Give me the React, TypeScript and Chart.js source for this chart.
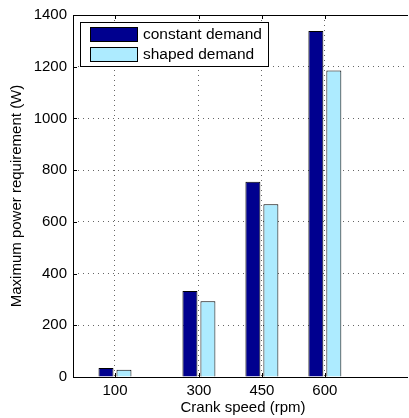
import { useEffect, useRef } from 'react';
import { Chart, registerables } from 'chart.js';

Chart.register(...registerables);

const crankSpeeds = [100, 300, 450, 600];
const constantDemand = [35, 333, 755, 1338];
const shapedDemand = [28, 293, 668, 1185];
const seriesLabels = ['constant demand', 'shaped demand'];
const seriesColors = ['#00008F', '#ADEBFF'];
const yTickValues = [0, 200, 400, 600, 800, 1000, 1200, 1400];
const xTitle = 'Crank speed (rpm)';
const yTitle = 'Maximum power requirement (W)';

const FONT_FAMILY = '"Liberation Sans", Arial, sans-serif';
const GRID = 'rgba(0,0,0,0.6)';

const boxPlugin = {
  id: 'matlabBox',
  afterDraw(chart: any) {
    const { ctx, chartArea } = chart;
    const { left, top, right, bottom } = chartArea;
    const xs = chart.scales.x;
    const ys = chart.scales.y;
    ctx.save();
    ctx.setLineDash([]);
    ctx.strokeStyle = '#000';
    ctx.lineWidth = 1;
    ctx.beginPath();
    ctx.moveTo(left, top + 0.5);
    ctx.lineTo(right, top + 0.5);
    ctx.stroke();
    ctx.beginPath();
    ctx.moveTo(left + 0.5, top);
    ctx.lineTo(left + 0.5, bottom + 1);
    ctx.stroke();
    ctx.beginPath();
    ctx.moveTo(left, bottom + 0.5);
    ctx.lineTo(right, bottom + 0.5);
    ctx.stroke();
    const tl = 4;
    crankSpeeds.forEach((v) => {
      const px = Math.round(xs.getPixelForValue(v)) + 0.5;
      ctx.beginPath();
      ctx.moveTo(px, bottom);
      ctx.lineTo(px, bottom - tl);
      ctx.stroke();
      ctx.beginPath();
      ctx.moveTo(px, top);
      ctx.lineTo(px, top + tl);
      ctx.stroke();
    });
    yTickValues.forEach((v) => {
      const py = Math.round(ys.getPixelForValue(v)) + 0.5;
      ctx.beginPath();
      ctx.moveTo(left, py);
      ctx.lineTo(left + tl, py);
      ctx.stroke();
    });

    // legend
    const lx = left + 7;
    const ly = top + 7;
    const lw = 188;
    const lh = 44;
    ctx.fillStyle = '#fff';
    ctx.fillRect(lx, ly, lw, lh);
    ctx.strokeRect(lx + 0.5, ly + 0.5, lw, lh);
    ctx.font = `15.5px ${FONT_FAMILY}`;
    ctx.textBaseline = 'middle';
    ctx.textAlign = 'left';
    chart.data.datasets.forEach((ds: any, i: number) => {
      const sy = ly + 5 + i * 20;
      ctx.fillStyle = ds.backgroundColor;
      ctx.fillRect(lx + 10, sy, 48, 15);
      ctx.strokeStyle = '#000';
      ctx.strokeRect(lx + 10.5, sy + 0.5, 47, 14);
      ctx.fillStyle = '#000';
      ctx.fillText(ds.label, lx + 63, sy + 8);
    });
    ctx.restore();
  },
};

export default function App() {
  const canvasRef = useRef<HTMLCanvasElement | null>(null);

  useEffect(() => {
    if (!canvasRef.current) return;
    const font = { family: FONT_FAMILY, size: 15 };
    const chart = new Chart(canvasRef.current, {
      type: 'bar',
      data: {
        datasets: [constantDemand, shapedDemand].map((vals, i) => ({
          label: seriesLabels[i],
          data: crankSpeeds.map((x, j) => ({ x, y: vals[j] })),
          backgroundColor: seriesColors[i],
          borderColor: '#000',
          borderWidth: 1,
          borderSkipped: 'bottom',
          categoryPercentage: 0.571,
          barPercentage: 0.833,
        })),
      },
      options: {
        responsive: false,
        maintainAspectRatio: false,
        animation: false,
        layout: { padding: { top: 13, right: 0, left: 0, bottom: 0 } },
        plugins: { legend: { display: false }, tooltip: { enabled: false } },
        scales: {
          x: {
            type: 'linear',
            min: 0,
            max: 810,
            offset: false,
            grid: { offset: false, color: GRID, drawTicks: false, lineWidth: 1 },
            border: { display: false, dash: [1, 4] },
            afterBuildTicks: (s: any) => {
              s.ticks = crankSpeeds.map((v) => ({ value: v }));
            },
            ticks: { font, color: '#000', padding: 5, maxRotation: 0, autoSkip: false, callback: (v: any) => String(v) },
            title: { display: true, text: xTitle, font, color: '#000', padding: { top: 0, bottom: 1 } },
            afterFit: (s: any) => {
              s.height = 41;
            },
          },
          y: {
            min: 0,
            max: 1400,
            grid: { color: GRID, drawTicks: false, lineWidth: 1 },
            border: { display: false, dash: [1, 4] },
            afterBuildTicks: (s: any) => {
              s.ticks = yTickValues.map((v) => ({ value: v }));
            },
            ticks: { font, color: '#000', padding: 6, callback: (v: any) => String(v) },
            title: { display: true, text: yTitle, font, color: '#000', padding: { top: 8, bottom: 0 } },
            afterFit: (s: any) => {
              s.width = 73;
            },
          },
        },
      } as any,
      plugins: [boxPlugin],
    });
    return () => chart.destroy();
  }, []);

  return (
    <div style={{ position: 'absolute', left: 0, top: 0, width: 408, height: 418, overflow: 'hidden', background: '#fff' }}>
      <canvas ref={canvasRef} width={413} height={418} style={{ display: 'block' }} />
    </div>
  );
}
